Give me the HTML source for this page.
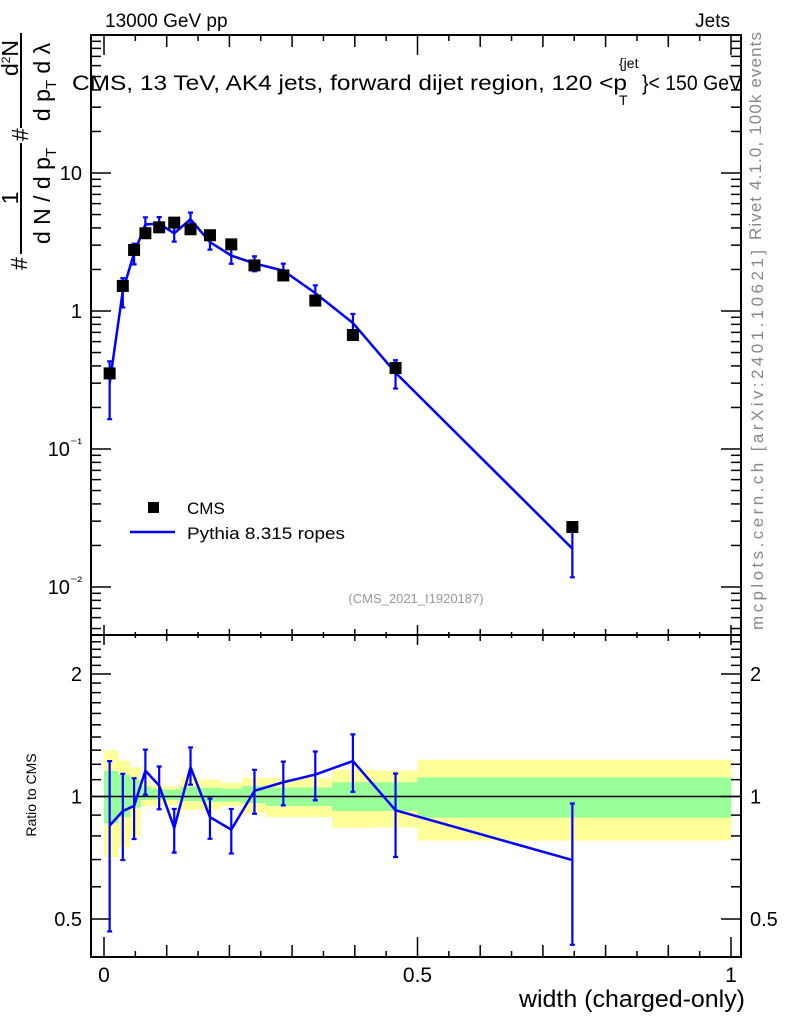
<!DOCTYPE html>
<html><head><meta charset="utf-8">
<style>
html,body{margin:0;padding:0;background:#fff;}
svg{display:block;font-family:"Liberation Sans",Arial,sans-serif;}
</style></head>
<body>
<svg id="chart" width="786" height="1024" viewBox="0 0 786 1024" xmlns="http://www.w3.org/2000/svg">
<g id="bands"></g>
<g id="grid"></g>
<g id="marks"></g>
<rect x="91" y="35" width="650" height="922" fill="none" stroke="#000" stroke-width="2"/>
<line x1="91" y1="635" x2="741" y2="635" stroke="#000" stroke-width="2"/>
<text x="105" y="27" font-size="19">13000 GeV pp</text>
<text x="730" y="27" font-size="19" text-anchor="end">Jets</text>
<g>
<text x="72" y="90" font-size="21" textLength="555" lengthAdjust="spacingAndGlyphs">CMS, 13 TeV, AK4 jets, forward dijet region, 120 &lt;p</text>
<text x="619" y="68" font-size="14">{jet</text>
<text x="619" y="105" font-size="14">T</text>
<text x="642" y="90" font-size="21" textLength="100" lengthAdjust="spacingAndGlyphs">}&lt; 150 GeV</text>
</g>
<text x="416" y="603" font-size="13" fill="#999" text-anchor="middle">(CMS_2021_I1920187)</text>
<text transform="translate(761,240) rotate(-90)" font-size="17" fill="#888" textLength="208" lengthAdjust="spacing">Rivet 4.1.0,  100k events</text>
<text transform="translate(763,630) rotate(-90)" font-size="17" fill="#888" textLength="380" lengthAdjust="spacing">mcplots.cern.ch [arXiv:2401.10621]</text>
<g font-size="23">
 <text transform="translate(27,270) rotate(-90)">#</text>
 <line x1="21" y1="143" x2="21" y2="254" stroke="#000" stroke-width="2"/>
 <text transform="translate(18,198) rotate(-90)" text-anchor="middle">1</text>
 <text transform="translate(50,196) rotate(-90)" text-anchor="middle">d N / d p<tspan font-size="15" dy="6">T</tspan></text>
 <text transform="translate(28,141) rotate(-90)">#</text>
 <line x1="21" y1="33" x2="21" y2="128" stroke="#000" stroke-width="2"/>
 <text transform="translate(18,58) rotate(-90)" text-anchor="middle">d<tspan font-size="12" dy="-8">2</tspan><tspan dy="8">N</tspan></text>
 <text transform="translate(50,82) rotate(-90)" text-anchor="middle">d p<tspan font-size="15" dy="6">T</tspan><tspan dy="-6"> d λ</tspan></text>
</g>
<text transform="translate(36,795) rotate(-90)" font-size="14" text-anchor="middle">Ratio to CMS</text>
<text x="745" y="1007" font-size="24" text-anchor="end" textLength="226" lengthAdjust="spacingAndGlyphs">width (charged-only)</text>
<g>
 <rect x="148" y="502" width="11" height="11" fill="#000"/>
 <text x="187" y="514" font-size="17">CMS</text>
 <line x1="130" y1="532" x2="175" y2="532" stroke="#0000ff" stroke-width="2.5"/>
 <text x="187" y="539" font-size="17" textLength="158" lengthAdjust="spacingAndGlyphs">Pythia 8.315 ropes</text>
</g>
</svg>
<script>
const binEdges=[0,0.022,0.041,0.058,0.075,0.095,0.122,0.153,0.186,0.22,0.258,0.316,0.364,0.43,0.5,1];
const xPoints=[0.009,0.03,0.048,0.066,0.088,0.112,0.138,0.169,0.203,0.24,0.286,0.337,0.397,0.465,0.747];
const cmsValues=[0.353,1.52,2.77,3.66,4.04,4.37,3.91,3.54,3.04,2.14,1.81,1.19,0.67,0.386,0.0272];
const ratioValues=[0.848,0.921,0.948,1.158,1.063,0.837,1.181,0.890,0.829,1.033,1.084,1.132,1.222,0.925,0.698];
const ratioErrUp=[1.222,1.137,1.109,1.304,1.185,0.932,1.32,0.988,0.932,1.163,1.218,1.29,1.421,1.139,0.961];
const ratioErrDown=[0.466,0.698,0.786,1.01,0.93,0.728,1.069,0.787,0.724,0.907,0.951,0.979,1.027,0.71,0.432];
const yellowHi=[1.30,1.225,1.18,1.09,1.067,1.06,1.115,1.10,1.08,1.11,1.109,1.109,1.162,1.158,1.231];
const yellowLo=[0.71,0.75,0.80,0.945,0.953,0.95,0.926,0.93,0.947,0.911,0.89,0.89,0.837,0.84,0.779];
const greenHi=[1.155,1.13,1.10,1.057,1.043,1.04,1.057,1.05,1.045,1.06,1.052,1.052,1.084,1.084,1.115];
const greenLo=[0.86,0.89,0.94,0.98,0.984,0.98,0.975,0.97,0.971,0.964,0.948,0.948,0.921,0.921,0.887];
const xTickLabels=["0","0.5","1"];
const mainTickLabels=[["10⁻²",0.01],["10⁻¹",0.1],["1",1],["10",10]];
const ratioTickLabels=["0.5","1","2"];

const NS="http://www.w3.org/2000/svg";
function X(v){return 104+627*v;}
function Y(v){return 311-138*Math.log10(v);}
function R(v){return 796.5-122.5*Math.log2(v);}
function mk(parent,tag,attrs){const e=document.createElementNS(NS,tag);for(const k in attrs)e.setAttribute(k,attrs[k]);parent.appendChild(e);return e;}
const bands=document.getElementById('bands'),grid=document.getElementById('grid'),marks=document.getElementById('marks');

for(let i=0;i<cmsValues.length;i++){
 const y=mk(bands,'rect',{x:X(binEdges[i]),y:R(yellowHi[i]),width:X(binEdges[i+1])-X(binEdges[i])+0.5,height:R(yellowLo[i])-R(yellowHi[i]),fill:'#ffff99'});
 
 
}
for(let i=0;i<cmsValues.length;i++){
 const g=mk(bands,'rect',{x:X(binEdges[i]),y:R(greenHi[i]),width:X(binEdges[i+1])-X(binEdges[i])+0.5,height:R(greenLo[i])-R(greenHi[i]),fill:'#99ff99'});
 
 
}
mk(grid,'line',{x1:91,x2:741,y1:R(1),y2:R(1),stroke:'#000','stroke-width':1.5});

for(let k=0;k<=20;k++){
 const v=k*0.05,x=X(v);
 const L=(k%10===0)?20:(k%2===0?12:6);
 mk(grid,'line',{x1:x,x2:x,y1:35,y2:35+L,stroke:'#000','stroke-width':1.5});
 mk(grid,'line',{x1:x,x2:x,y1:635-L/2,y2:635+L/2,stroke:'#000','stroke-width':1.5});
 mk(grid,'line',{x1:x,x2:x,y1:957,y2:957-L,stroke:'#000','stroke-width':1.5});
}
xTickLabels.forEach((t,i)=>{const e=mk(grid,'text',{x:X(i*0.5),y:982,'font-size':21,'text-anchor':'middle'});e.textContent=t;
 
 });

for(let d=-3;d<=2;d++){for(let m=1;m<10;m++){
 const v=m*Math.pow(10,d),y=Y(v);if(y<36||y>634)continue;
 const L=m===1?20:10;
 mk(grid,'line',{x1:91,x2:91+L,y1:y,y2:y,stroke:'#000','stroke-width':1.5});
 mk(grid,'line',{x1:741,x2:741-L,y1:y,y2:y,stroke:'#000','stroke-width':1.5});
}}
mainTickLabels.forEach(([t,v])=>{
 const e=mk(grid,'text',{x:82,y:Y(v)+7,'font-size':20,'text-anchor':'end'});
 if(t.indexOf('⁻')>=0){e.textContent='10';const s=mk(e,'tspan',{dy:-8,'font-size':14});s.textContent=t.slice(2);}else e.textContent=t;
 
 
});
[0.5,0.6,0.7,0.8,0.9,1,1.1,1.2,1.3,1.4,1.5,1.6,1.7,1.8,1.9,2,2.1,2.2,2.3,2.4].forEach(v=>{
 const y=R(v);if(y<636||y>956)return;
 const L=(v===0.5||v===1||v===2)?20:10;
 mk(grid,'line',{x1:91,x2:91+L,y1:y,y2:y,stroke:'#000','stroke-width':1.5});
 mk(grid,'line',{x1:741,x2:741-L,y1:y,y2:y,stroke:'#000','stroke-width':1.5});
});
ratioTickLabels.forEach(t=>{const v=parseFloat(t);
 const a=mk(grid,'text',{x:82,y:R(v)+7,'font-size':20,'text-anchor':'end'});a.textContent=t;
 
 
 const b=mk(grid,'text',{x:750,y:R(v)+7,'font-size':20});b.textContent=t;
 
 
});

let pts=[],rpts=[];
for(let i=0;i<cmsValues.length;i++){
 const x=X(xPoints[i]),mc=cmsValues[i]*ratioValues[i];
 pts.push(x+','+Y(mc));rpts.push(x+','+R(ratioValues[i]));
}
const ml=mk(marks,'polyline',{points:pts.join(' '),fill:'none',stroke:'#0000ff','stroke-width':2.5});


const rl=mk(marks,'polyline',{points:rpts.join(' '),fill:'none',stroke:'#0000ff','stroke-width':2.5});


for(let i=0;i<cmsValues.length;i++){
 const x=X(xPoints[i]);
 const up=cmsValues[i]*ratioErrUp[i],dn=cmsValues[i]*ratioErrDown[i];
 [[Y(up),Y(dn)],[R(ratioErrUp[i]),R(ratioErrDown[i])]].forEach(([a,b],j)=>{
  const g=mk(marks,'path',{d:`M${x},${a}V${b}M${x-2.5},${a}h5M${x-2.5},${b}h5`,stroke:'#0000ff','stroke-width':2.2,fill:'none'});
  
  
 });
 const s=mk(marks,'rect',{x:x-6,y:Y(cmsValues[i])-6,width:12,height:12,fill:'#000'});
 
 
}
</script>
</body></html>
